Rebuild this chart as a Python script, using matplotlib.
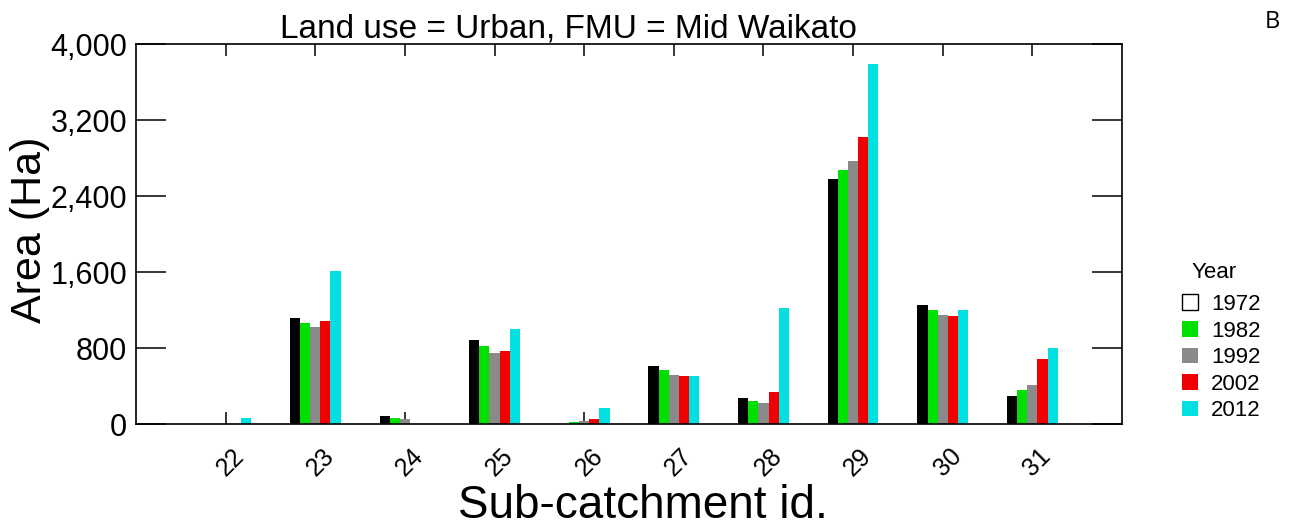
import matplotlib
matplotlib.use("Agg")
import matplotlib.pyplot as plt
import matplotlib.transforms as mtransforms
import numpy as np
from matplotlib.patches import Patch

plt.rcParams['font.family'] = ['Liberation Sans', 'DejaVu Sans']

# data
catchments = [22, 23, 24, 25, 26, 27, 28, 29, 30, 31]
years = ['1972', '1982', '1992', '2002', '2012']
v1972 = [0, 1112, 84, 884, 0, 614, 270, 2576, 1249, 295]
v1982 = [3, 1063, 63, 818, 18, 565, 242, 2674, 1200, 354]
v1992 = [3, 1018, 50, 751, 32, 516, 218, 2772, 1147, 411]
v2002 = [4, 1084, 0, 768, 56, 505, 340, 3021, 1133, 679]
v2012 = [65, 1607, 0, 1000, 165, 505, 1218, 3786, 1200, 803]
yticks = [0, 800, 1600, 2400, 3200, 4000]

series = [v1972, v1982, v1992, v2002, v2012]
colors = ['#000000', '#00e000', '#8a8a8a', '#f00000', '#00e0e0']

fig = plt.figure(figsize=(12.92, 5.27), dpi=100)
ax = fig.add_axes([136/1292, 103/527, 986/1292, 380/527])

x = np.array(catchments, dtype=float)
w = 0.113
for i, (vals, c) in enumerate(zip(series, colors)):
    ax.bar(x + (i - 2) * w, vals, width=w, color=c, linewidth=0, zorder=2)

ax.set_xlim(21, 32)
ax.set_ylim(0, 4000)
ax.set_xticks(catchments)
ax.set_xticklabels([str(c) for c in catchments], rotation=45, fontsize=18)
ax.set_yticks(yticks)
ax.set_yticklabels(['{:,}'.format(t) for t in yticks], fontsize=22)

ax.tick_params(axis='x', direction='in', length=8.6, width=1.1, top=True, bottom=True, pad=14)
ax.tick_params(axis='y', direction='in', length=21.6, width=1.1, left=True, right=True, pad=6.5)
for s in ax.spines.values():
    s.set_linewidth(1.2)
    s.set_zorder(3)

# nudge rotated tick labels a little right, as in the reference
shift = mtransforms.ScaledTranslation(5/100, 0, fig.dpi_scale_trans)
for lab in ax.get_xticklabels():
    lab.set_transform(lab.get_transform() + shift)

ax.set_ylabel('Area (Ha)', fontsize=31)
ax.yaxis.set_label_coords((50 - 136) / 986, 0.51)
ax.set_xlabel('Sub-catchment id.', fontsize=33)
ax.xaxis.set_label_coords((643 - 136) / 986, (424 - 484) / 380)

fig.text(568/1292, 1 - 37/527, 'Land use = Urban, FMU = Mid Waikato',
         fontsize=24, ha='center', va='baseline')
fig.text(1272/1292, 1 - 22/527, 'B', fontsize=17, family='Open Sans',
         ha='center', va='center')

# legend, title placed on its own for the wider gap
fig.text(1214/1292, 1 - 272/527, 'Year', fontsize=16, ha='center', va='center')
handles = [Patch(facecolor='white', edgecolor='black', linewidth=1.0)]
handles += [Patch(facecolor=c, edgecolor='none') for c in colors[1:]]
leg = fig.legend(handles, years, loc='upper left',
                 bbox_to_anchor=(1182/1292, 1 - 294/527), frameon=False,
                 fontsize=16, handlelength=0.7,
                 handleheight=0.7, handletextpad=0.6, labelspacing=0.25,
                 borderpad=0, borderaxespad=0)

fig.savefig('out.png', dpi=100)
